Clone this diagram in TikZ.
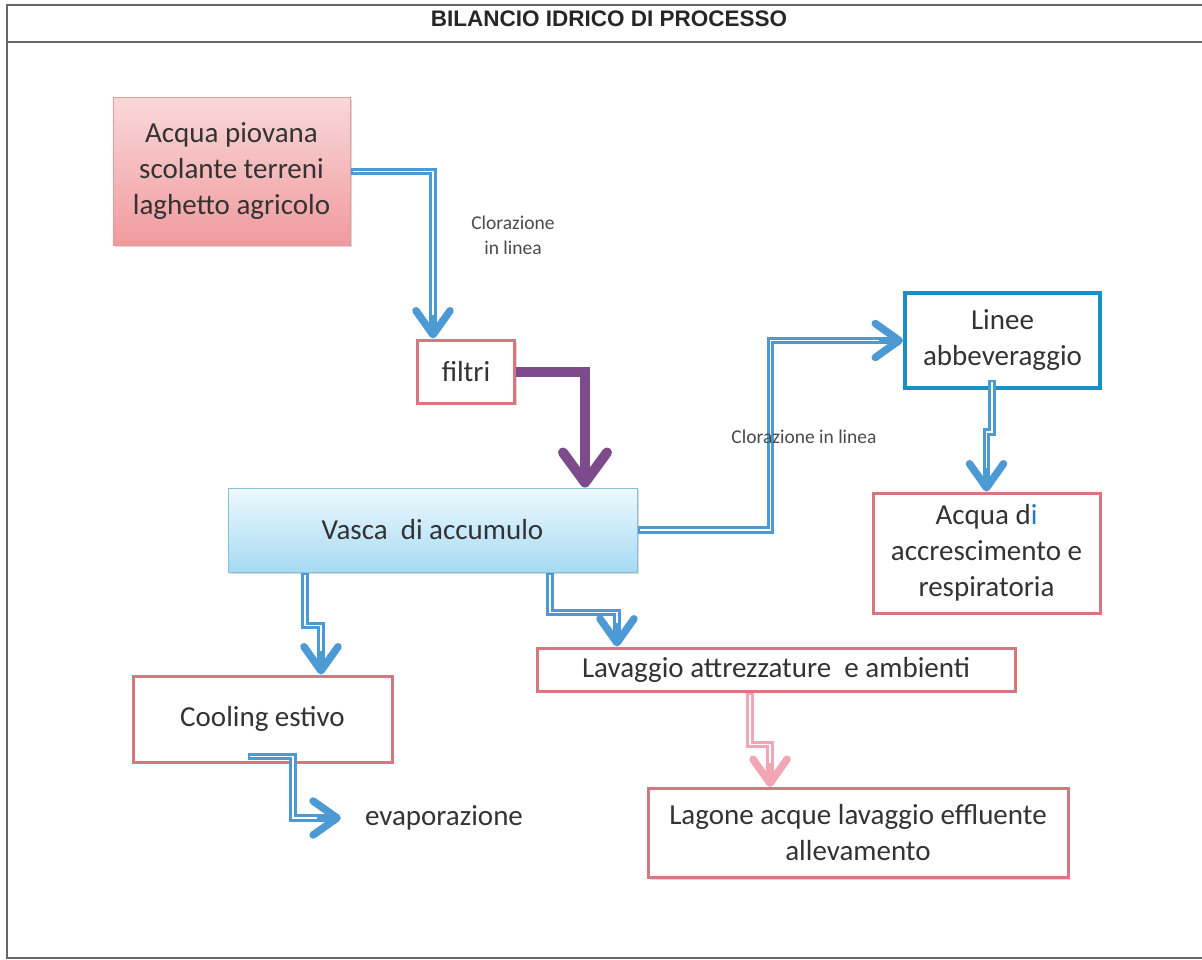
\documentclass[tikz,border=0pt]{standalone}
\usepackage{fontspec}
\setmainfont{Carlito}
\newfontfamily\titlefont{Liberation Sans}
\usetikzlibrary{arrows.meta,shadows}
\definecolor{flowblue}{HTML}{4C9AD4}
\definecolor{flowpurple}{HTML}{7D4A8C}
\definecolor{flowpink}{HTML}{F2A5B5}
\definecolor{boxred}{HTML}{D7767C}
\definecolor{acqtop}{HTML}{F9D8D8}
\definecolor{acqbot}{HTML}{F19A9E}
\definecolor{acqline}{HTML}{E59A9A}
\definecolor{vastop}{HTML}{EEF9FE}
\definecolor{vasbot}{HTML}{A6DAF3}
\definecolor{vasline}{HTML}{86C2D6}
\definecolor{lineeline}{HTML}{1B8FC2}
\definecolor{txt}{HTML}{333333}
\definecolor{smalltxt}{HTML}{4A4A4A}
\definecolor{framecol}{HTML}{666666}
\definecolor{ibl}{HTML}{1A7AD0}
\begin{document}
\begin{tikzpicture}[x=1pt,y=-1pt,
  every node/.style={text=txt, font=\fontsize{29}{36}\selectfont},
  boxbase/.style={rectangle, inner sep=0pt, align=center,
    drop shadow={shadow xshift=2pt, shadow yshift=-2pt, opacity=0.15, fill=black}},
  redbox/.style={boxbase, draw=boxred, line width=3pt, fill=white},
  flow/.style={draw=flowblue, line width=7.5pt,
    -{Straight Barb[length=24pt,width=34pt,round]},
    postaction={draw=white, line width=1.3pt, -, shorten >=24pt, shorten <=2pt}},
  pinkflow/.style={flow, draw=flowpink},
  purpleflow/.style={draw=flowpurple, line width=10pt,
    -{Straight Barb[length=30pt,width=44pt,round]}},
  smalllabel/.style={text=smalltxt, font=\fontsize{19.5}{25}\selectfont, align=center}
]
\useasboundingbox (0,0) rectangle (1202,960);
% frame
\draw[framecol, line width=2pt] (1210,5) -- (7,5) -- (7,958) -- (1210,958);
\draw[framecol, line width=2pt] (7,42) -- (1210,42);
\node[font=\titlefont\bfseries\fontsize{22.5}{26}\selectfont, text=black!85] (title) at (609,19) {BILANCIO IDRICO DI PROCESSO};

% nodes
\node[boxbase, draw=acqline, line width=1pt, top color=acqtop, bottom color=acqbot,
      minimum width=237pt, minimum height=147pt] (acq) at (231.5,171.5)
      {Acqua piovana\\scolante terreni\\laghetto agricolo};
\node[redbox, minimum width=97pt, minimum height=63pt] (filtri) at (466,371.5) {filtri};
\node[boxbase, draw=vasline, line width=1pt, top color=vastop, bottom color=vasbot,
      minimum width=409pt, minimum height=84pt] (vasca) at (432.5,530) {Vasca\ \ di accumulo};
\node[boxbase, draw=lineeline, line width=4pt, fill=white,
      minimum width=195pt, minimum height=95pt] (linee) at (1002.5,340.5) {Linee\\abbeveraggio};
\node[redbox, minimum width=227pt, minimum height=120pt] (accr) at (986.5,553)
      {Acqua d\textcolor{ibl}{i}\\accrescimento e\\respiratoria};
\node[redbox, minimum width=478pt, minimum height=43pt] (lav) at (776,669.5)
      {Lavaggio attrezzature\ \ e ambienti};
\node[redbox, minimum width=259pt, minimum height=86pt] (cool) at (262.5,719) {Cooling estivo};
\node[redbox, minimum width=420pt, minimum height=89pt] (lag) at (858,833)
      {Lagone acque lavaggio effluente\\allevamento};
\node[inner sep=0pt, inner xsep=24pt] (evap) at (444,818) {evaporazione};

% connectors
\draw[flow] (acq.east) -| ([xshift=-33pt]filtri.north);
\draw[purpleflow] (filtri.east) -| ([xshift=152.5pt]vasca.north);
\draw[flow] (vasca.east) -- ++(133,0) |- (linee.west);
\draw[flow] ([xshift=-10.5pt,yshift=10pt]linee.south) -- ++(0,52) -| (accr.north);
\draw[flow] ([xshift=-127.5pt]vasca.south) -- ++(0,53) -| ([xshift=58.5pt]cool.north);
\draw[flow] ([xshift=117.5pt]vasca.south) -- ++(0,40) -| ([xshift=-159pt]lav.north);
\draw[pinkflow] ([xshift=-26pt]lav.south) -- ++(0,52) -| ([xshift=-88pt]lag.north);
\draw[flow] ([xshift=-14.5pt,yshift=7pt]cool.south) -- ++(45,0) |- (evap.west);

% labels
\node[smalllabel] (clor1) at (513,235) {Clorazione\\in linea};
\node[smalllabel] (clor2) at (804,437) {Clorazione in linea};
\end{tikzpicture}
\end{document}
